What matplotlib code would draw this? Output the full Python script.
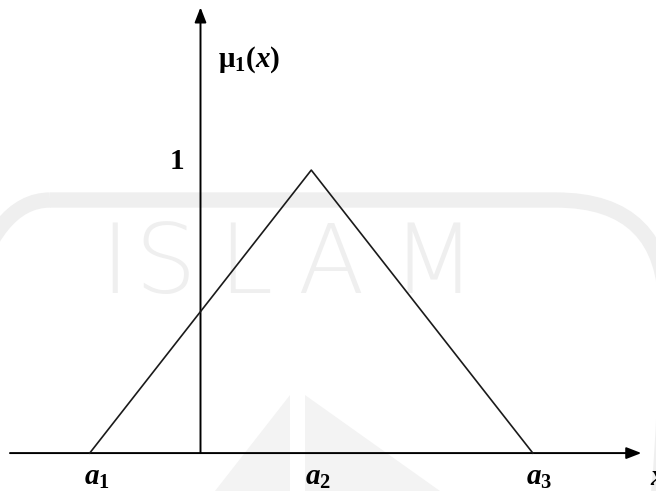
import matplotlib
matplotlib.use("Agg")
import matplotlib.pyplot as plt
from matplotlib.patches import FancyBboxPatch, Polygon

plt.rcParams["mathtext.fontset"] = "custom"
plt.rcParams["mathtext.rm"] = "Liberation Serif:bold"
plt.rcParams["mathtext.it"] = "Liberation Serif:italic:bold"
plt.rcParams["mathtext.bf"] = "Liberation Serif:bold"

# Triangular membership function parameters
points = [-0.5, 0.5, 1.5]          # a1, a2, a3
membership = [0.0, 1.0, 0.0]
point_labels = [r"$a_1$", r"$a_2$", r"$a_3$"]
peak_label = "1"
y_label = r"$\mathrm{μ}_1(x)$"
x_label = r"$x$"

fig = plt.figure(figsize=(6.56, 4.91), dpi=100)

# background emblem layer (pixel-space overlay)
bg = fig.add_axes([0, 0, 1, 1], zorder=0)
bg.set_xlim(0, 656)
bg.set_ylim(491, 0)
bg.axis("off")
wm = "#efefef"
bg.add_patch(FancyBboxPatch((-60, 200), 726, 520,
                            boxstyle="round,pad=0,rounding_size=110",
                            fill=False, edgecolor=wm, linewidth=11))
for ch, cx in zip("ISLAM", [115, 165, 245, 330, 433]):
    bg.text(cx, 266, ch, fontsize=70, color=wm, ha="center", va="center",
            family="DejaVu Sans", fontweight="light")
bg.add_patch(Polygon([(290, 395), (290, 491), (215, 491)], closed=True,
                     facecolor="#f3f3f3", edgecolor="none"))
bg.add_patch(Polygon([(305, 395), (305, 491), (440, 491)], closed=True,
                     facecolor="#f3f3f3", edgecolor="none"))

ax = fig.add_axes([0, 0, 1, 1], zorder=1)
ax.patch.set_alpha(0)
ax.set_xlim(-0.905, 2.056)
ax.set_ylim(-0.134, 1.601)
ax.axis("off")

# axes with arrows
lw_axis = 1.4
ax.annotate("", xy=(1.99, 0), xytext=(-0.86, 0),
            arrowprops=dict(arrowstyle="-|>,head_length=0.9,head_width=0.35",
                            color="black", lw=lw_axis, shrinkA=0, shrinkB=0))
ax.annotate("", xy=(0, 1.575), xytext=(0, 0),
            arrowprops=dict(arrowstyle="-|>,head_length=0.9,head_width=0.35",
                            color="black", lw=lw_axis, shrinkA=0, shrinkB=0))

# membership triangle
ax.plot(points, membership, color="#1a1a1a", lw=1.2, zorder=3)

# labels
fs = 21
for p, lab in zip(points, point_labels):
    ax.text(p + 0.03, -0.085, lab, fontsize=fs, ha="center", va="center")
ax.text(2.03, -0.085, x_label, fontsize=fs, ha="left", va="center")
ax.text(-0.105, 1.03, peak_label, fontsize=fs, ha="center", va="center",
        family="Liberation Serif", weight="bold")
ax.text(0.08, 1.39, y_label, fontsize=fs, ha="left", va="center")

fig.savefig("out.png", dpi=100)
